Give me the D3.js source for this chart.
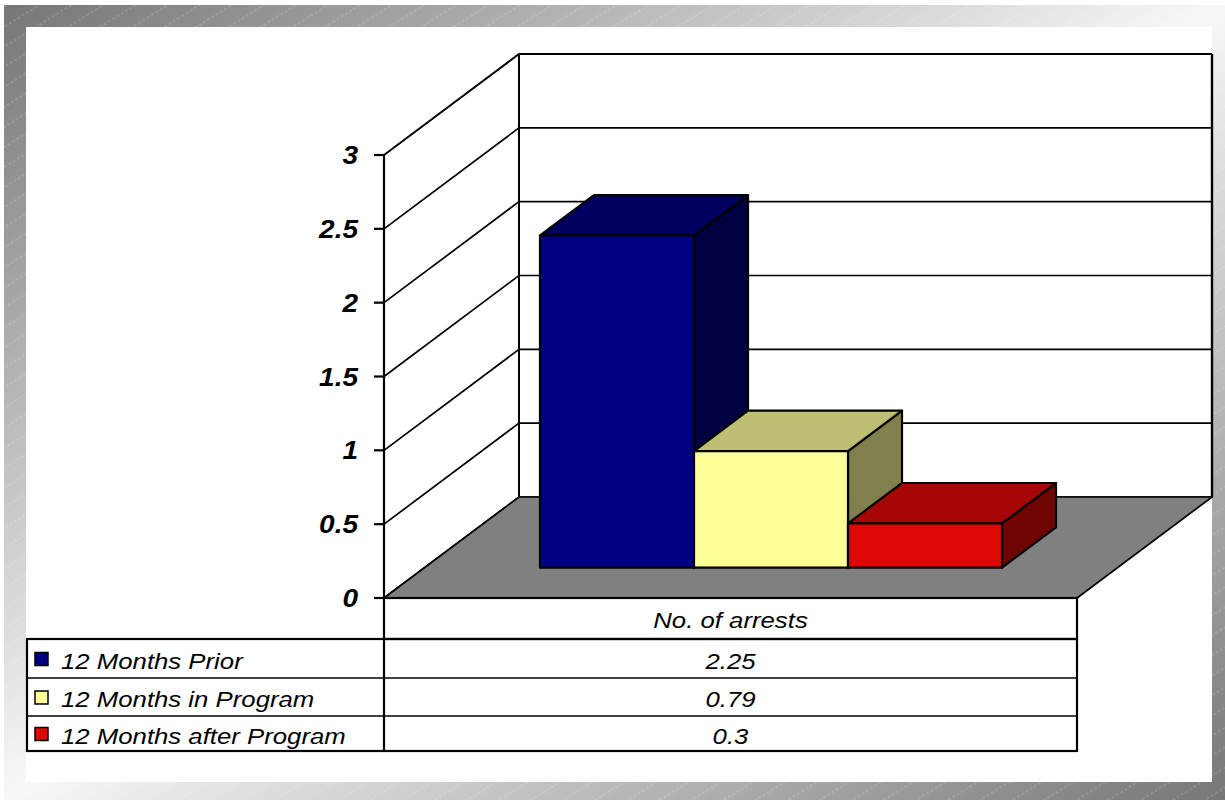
<!DOCTYPE html>
<html>
<head>
<meta charset="utf-8">
<script src="https://cdn.jsdelivr.net/npm/d3@7"></script>
<style>
  html, body { margin: 0; padding: 0; background: #ffffff; }
  svg { display: block; }
  text { font-family: "Liberation Sans", Arial, sans-serif; }
</style>
</head>
<body>
<svg id="chart" width="1225" height="800"></svg>
<script>
// Chart data
const categories = ["No. of arrests"];
const seriesNames = ["12 Months Prior", "12 Months in Program", "12 Months after Program"];
const seriesValues = [2.25, 0.79, 0.3];
const valueLabels = ["2.25", "0.79", "0.3"];
const seriesColors = ["#000080", "#ffff99", "#dd0806"];
const yTicks = [0, 0.5, 1, 1.5, 2, 2.5, 3];
const tickLabels = ["0", "0.5", "1", "1.5", "2", "2.5", "3"];

const svg = d3.select("#chart");
const W = 1225, H = 800;

// --- background frame (diagonal grey gradient with faint hatching) ---
const defs = svg.append("defs");
const grad = defs.append("linearGradient")
    .attr("id", "frameGrad")
    .attr("x1", 0).attr("y1", 0).attr("x2", 1).attr("y2", 1);
grad.append("stop").attr("offset", "0%").attr("stop-color", "#767676");
grad.append("stop").attr("offset", "50%").attr("stop-color", "#f8f8f8");
grad.append("stop").attr("offset", "100%").attr("stop-color", "#767676");

const hatch = defs.append("pattern")
    .attr("id", "hatch")
    .attr("patternUnits", "userSpaceOnUse")
    .attr("width", 40).attr("height", 17)
    .attr("patternTransform", "rotate(-32)");
hatch.append("line")
    .attr("x1", 0).attr("y1", 8).attr("x2", 40).attr("y2", 8)
    .attr("stroke", "#ffffff")
    .attr("stroke-opacity", 0.35)
    .attr("stroke-width", 0.8)
    .attr("stroke-dasharray", "3,2");

svg.append("rect").attr("x", 4).attr("y", 5).attr("width", W - 4).attr("height", H - 5)
    .attr("fill", "url(#frameGrad)");
svg.append("rect").attr("x", 4).attr("y", 5).attr("width", W - 4).attr("height", H - 5)
    .attr("fill", "url(#hatch)");
svg.append("rect").attr("x", 26).attr("y", 27).attr("width", 1186).attr("height", 755)
    .attr("fill", "#ffffff");

// --- 3D projection setup ---
const plotLeft = 384, plotRight = 1077;
const depthDX = 135, depthDY = 101;   // oblique offset of the full depth

const y = d3.scaleLinear().domain([0, 3]).range([598, 155]);
const xCat = d3.scaleBand().domain(categories).range([plotLeft, plotRight])
    .paddingInner(0).paddingOuter(0.25);
const xSer = d3.scaleBand().domain(seriesNames).range([0, xCat.bandwidth()]);

// point in (x, value, depth fraction) -> screen
function proj(x, v, d) {
    return [x + d * depthDX, y(v) - d * depthDY];
}
const line = d3.line();
const poly = pts => line(pts) + "Z";

const g = svg.append("g");

// side wall diagonals and back wall gridlines
const wall = g.append("g");
wall.append("path")
    .attr("d", poly([proj(plotLeft, 3, 1), proj(plotRight, 3, 1), proj(plotRight, 0, 1), proj(plotLeft, 0, 1)]))
    .attr("fill", "#ffffff").attr("stroke", "none");

yTicks.forEach(t => {
    wall.append("path")
        .attr("d", line([proj(plotLeft, t, 0), proj(plotLeft, t, 1), proj(plotRight, t, 1)]))
        .attr("fill", "none")
        .attr("stroke", "#000")
        .attr("stroke-width", t === 3 ? 2 : 1.7);
});
// back wall verticals
wall.append("path")
    .attr("d", line([proj(plotLeft, 0, 1), proj(plotLeft, 3, 1)]))
    .attr("stroke", "#000").attr("stroke-width", 2);
wall.append("path")
    .attr("d", line([proj(plotRight, 0, 1), proj(plotRight, 3, 1)]))
    .attr("stroke", "#000").attr("stroke-width", 2.4);

// floor
g.append("path")
    .attr("d", poly([proj(plotLeft, 0, 0), proj(plotLeft, 0, 1), proj(plotRight, 0, 1), proj(plotRight, 0, 0)]))
    .attr("fill", "#808080")
    .attr("stroke", "#000")
    .attr("stroke-width", 1.7)
    .attr("stroke-linejoin", "round");

// value axis line and ticks
g.append("path")
    .attr("d", line([[plotLeft, y(0)], [plotLeft, y(3)]]))
    .attr("stroke", "#000").attr("stroke-width", 2.2);
g.selectAll(".tick").data(yTicks).enter()
    .append("path")
    .attr("d", t => line([[plotLeft - 10, y(t)], [plotLeft, y(t)]]))
    .attr("stroke", "#000").attr("stroke-width", 2.2);
g.selectAll(".tick-label").data(yTicks).enter()
    .append("text")
    .attr("transform", t => `translate(358, ${y(t) + 9}) scale(1.12, 1)`)
    .attr("text-anchor", "end")
    .attr("font-size", 25)
    .attr("font-weight", "bold")
    .attr("font-style", "italic")
    .attr("fill", "#000")
    .text((t, i) => tickLabels[i]);

// bars
const d0 = 0.3, d1 = 0.7;
function shade(c, k) {
    const r = d3.rgb(c);
    return d3.rgb(r.r * k, r.g * k, r.b * k).formatHex();
}
seriesNames.forEach((name, i) => {
    const x0 = xCat(categories[0]) + xSer(name);
    const x1 = x0 + xSer.bandwidth();
    const v = seriesValues[i];
    const bar = g.append("g")
        .attr("stroke", "#000")
        .attr("stroke-width", 2.2)
        .attr("stroke-linejoin", "round");
    bar.append("path")
        .attr("d", poly([proj(x1, 0, d0), proj(x1, 0, d1), proj(x1, v, d1), proj(x1, v, d0)]))
        .attr("fill", shade(seriesColors[i], 0.5));
    bar.append("path")
        .attr("d", poly([proj(x0, v, d0), proj(x1, v, d0), proj(x1, v, d1), proj(x0, v, d1)]))
        .attr("fill", shade(seriesColors[i], 0.75));
    bar.append("path")
        .attr("d", poly([proj(x0, 0, d0), proj(x1, 0, d0), proj(x1, v, d0), proj(x0, v, d0)]))
        .attr("fill", seriesColors[i]);
});

// --- data table ---
const tableLeft = 27;
const rowEdges = [598, 639, 678, 716, 751];
const tbl = g.append("g").attr("fill", "none").attr("stroke", "#000");
const valMid = (plotLeft + plotRight) / 2;

// header cell
tbl.append("rect").attr("x", plotLeft).attr("y", rowEdges[0])
    .attr("width", plotRight - plotLeft).attr("height", rowEdges[1] - rowEdges[0])
    .attr("stroke-width", 2.2);
// outer box of data rows
tbl.append("rect").attr("x", tableLeft).attr("y", rowEdges[1])
    .attr("width", plotRight - tableLeft).attr("height", rowEdges[4] - rowEdges[1])
    .attr("stroke-width", 2.2);
tbl.append("line").attr("x1", plotLeft).attr("x2", plotLeft)
    .attr("y1", rowEdges[1]).attr("y2", rowEdges[4]).attr("stroke-width", 2.2);
[rowEdges[2], rowEdges[3]].forEach(ry => {
    tbl.append("line").attr("x1", tableLeft).attr("x2", plotRight)
        .attr("y1", ry).attr("y2", ry).attr("stroke-width", 1.5);
});

g.append("text")
    .attr("transform", `translate(${valMid}, ${rowEdges[0] + 30}) scale(1.12, 1)`)
    .attr("text-anchor", "middle")
    .attr("font-size", 23).attr("font-style", "italic")
    .text(categories[0]);

seriesNames.forEach((name, i) => {
    const top = rowEdges[i + 1], bot = rowEdges[i + 2];
    const mid = (top + bot) / 2;
    g.append("rect")
        .attr("x", 35).attr("y", mid - 6)
        .attr("width", 13).attr("height", 13)
        .attr("fill", seriesColors[i])
        .attr("stroke", "#000").attr("stroke-width", 1.5);
    g.append("text")
        .attr("transform", `translate(61, ${mid + 10}) scale(1.12, 1)`)
        .attr("font-size", 23).attr("font-style", "italic")
        .text(name);
    g.append("text")
        .attr("transform", `translate(${valMid}, ${mid + 10}) scale(1.12, 1)`)
        .attr("text-anchor", "middle")
        .attr("font-size", 23).attr("font-style", "italic")
        .text(valueLabels[i]);
});
</script>
</body>
</html>
